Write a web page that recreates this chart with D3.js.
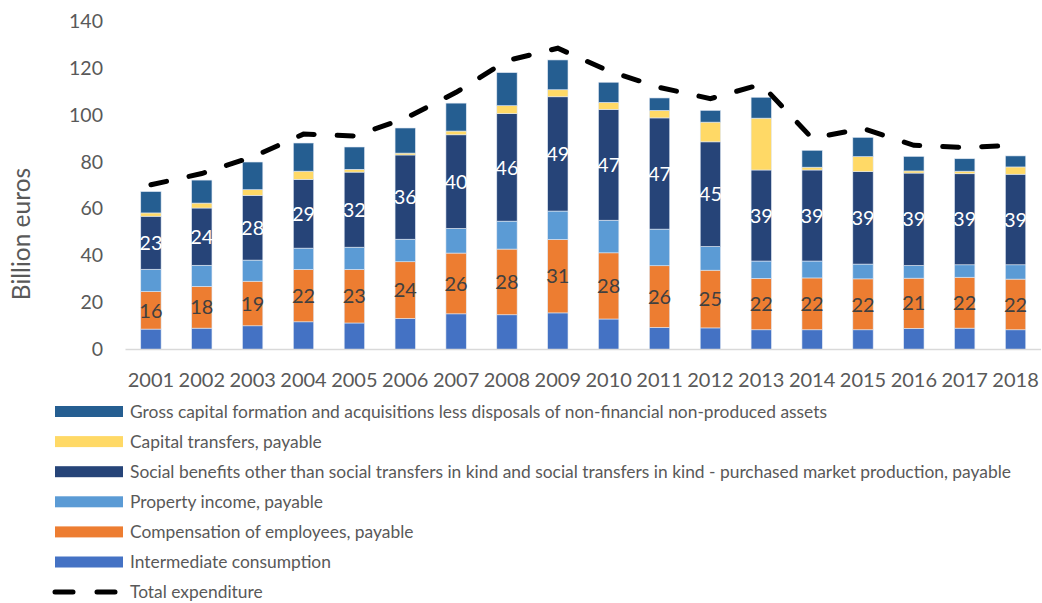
<!DOCTYPE html>
<html>
<head>
<meta charset="utf-8">
<script src="https://cdn.jsdelivr.net/npm/d3@7"></script>
<style>
  html, body { margin: 0; padding: 0; background: #fff; }
  svg { display: block; font-family: Lato, "Open Sans", sans-serif; }
</style>
</head>
<body>
<svg id="chart" width="1042" height="603"></svg>
<script>
// Government expenditure by category, billion euros
const years = ["2001","2002","2003","2004","2005","2006","2007","2008","2009","2010","2011","2012","2013","2014","2015","2016","2017","2018"];

const intermediate = [8.7, 9.1, 10.1, 11.8, 11.3, 13.2, 15.2, 14.8, 15.6, 13.0, 9.4, 9.2, 8.4, 8.4, 8.4, 9.0, 9.1, 8.4];
const compensation = [16.0, 17.8, 19.0, 22.3, 22.8, 24.2, 25.9, 28.0, 31.3, 28.2, 26.3, 24.6, 21.9, 22.1, 21.7, 21.4, 21.7, 21.6];
const property = [9.5, 9.0, 9.0, 9.1, 9.5, 9.6, 10.5, 11.9, 12.1, 13.9, 15.6, 10.1, 7.4, 7.2, 6.3, 5.4, 5.3, 6.1];
const social = [22.6, 24.4, 27.6, 29.3, 32.0, 35.9, 39.9, 45.8, 48.7, 47.2, 47.4, 44.6, 38.8, 38.8, 39.4, 39.4, 38.8, 38.6];
const capitalTransfers = [1.4, 2.1, 2.4, 3.5, 1.2, 0.8, 1.6, 3.4, 3.0, 3.0, 3.2, 8.4, 22.1, 1.2, 6.4, 0.9, 1.1, 3.1];
const grossCapital = [9.1, 9.8, 11.8, 12.0, 9.5, 10.7, 11.9, 14.1, 12.7, 8.6, 5.3, 5.0, 8.9, 7.2, 8.2, 6.2, 5.3, 4.7];
const totalExpenditure = [70.2, 75.0, 82.1, 91.8, 91.0, 98.5, 109.6, 123.1, 128.4, 118.7, 111.7, 106.9, 113.0, 90.0, 94.2, 87.0, 86.1, 87.0];

const yTicks = [0, 20, 40, 60, 80, 100, 120, 140];

// Series in stacking order (bottom to top)
const series = [
  { key: "intermediate", name: "Intermediate consumption", values: intermediate, color: "#4472c4" },
  { key: "compensation", name: "Compensation of employees, payable", values: compensation, color: "#ed7d31", label: "#404040" },
  { key: "property", name: "Property income, payable", values: property, color: "#5b9bd5" },
  { key: "social", name: "Social benefits other than social transfers in kind and social transfers in kind - purchased market production, payable", values: social, color: "#264478", label: "#ffffff" },
  { key: "capital", name: "Capital transfers, payable", values: capitalTransfers, color: "#ffd966" },
  { key: "gross", name: "Gross capital formation and acquisitions less disposals of non-financial non-produced assets", values: grossCapital, color: "#255e91" }
];

const svg = d3.select("#chart");
const margin = { left: 125.5, right: 1041, top: 21, bottom: 349.5 };

const x = d3.scaleBand().domain(years).range([margin.left, margin.right]).paddingInner(0.6).paddingOuter(0.3);
const y = d3.scaleLinear().domain([0, 140]).range([margin.bottom, margin.top]);

const rows = years.map((yr, i) => {
  const r = { year: yr };
  series.forEach(s => r[s.key] = s.values[i]);
  return r;
});
const stacked = d3.stack().keys(series.map(s => s.key))(rows);

// Bars
const layers = svg.append("g").selectAll("g")
  .data(stacked).join("g")
  .attr("fill", (d, i) => series[i].color);

layers.selectAll("rect")
  .data(d => d).join("rect")
  .attr("x", d => x(d.data.year))
  .attr("width", x.bandwidth())
  .attr("y", d => y(d[1]))
  .attr("height", d => y(d[0]) - y(d[1]))
  .attr("stroke", "#dfe8f3")
  .attr("stroke-width", 0.6);

// Value labels for compensation and social benefits
const fmt = d3.format(".0f");
stacked.forEach((layer, i) => {
  const s = series[i];
  if (!s.label) return;
  svg.append("g").selectAll("text")
    .data(layer).join("text")
    .attr("x", d => x(d.data.year) + x.bandwidth() / 2)
    .attr("y", d => y((d[0] + d[1]) / 2))
    .attr("dy", "0.36em")
    .attr("text-anchor", "middle")
    .attr("font-size", 20)
    .attr("fill", s.label)
    .text(d => fmt(d[1] - d[0]));
});

// Total expenditure dashed line
const line = d3.line()
  .x((d, i) => x(years[i]) + x.bandwidth() / 2)
  .y(d => y(d));

svg.append("path")
  .datum(totalExpenditure)
  .attr("d", line)
  .attr("fill", "none")
  .attr("stroke", "#000")
  .attr("stroke-width", 5)
  .attr("stroke-linecap", "round")
  .attr("stroke-dasharray", "16,23");

// X axis
const xAxis = svg.append("g")
  .attr("transform", `translate(0,${margin.bottom})`)
  .call(d3.axisBottom(x).tickSize(0).tickPadding(23));
xAxis.select(".domain").attr("stroke", "#d9d9d9").attr("stroke-width", 1.5)
  .attr("d", `M${margin.left},0H${margin.right}`);
xAxis.selectAll("text").attr("font-size", 20).attr("fill", "#595959")
  .attr("font-family", "Lato, sans-serif");

// Y axis (labels only)
const yAxis = svg.append("g")
  .attr("transform", `translate(103,0)`)
  .call(d3.axisLeft(y).tickValues(yTicks).tickSize(0).tickPadding(0));
yAxis.select(".domain").remove();
yAxis.selectAll("text").attr("font-size", 19.5).attr("fill", "#595959")
  .attr("font-family", "Lato, sans-serif");

svg.append("text")
  .attr("transform", "translate(30,234) rotate(-90)")
  .attr("text-anchor", "middle")
  .attr("font-size", 24.5)
  .attr("fill", "#595959")
  .text("Billion euros");

// Legend
const legendItems = series.slice().reverse().map(s => ({ name: s.name, color: s.color, type: "rect" }));
legendItems.push({ name: "Total expenditure", type: "line" });

const legend = svg.append("g");
const legendTop = 411.5, legendStep = 30.1;
legendItems.forEach((it, i) => {
  const cy = legendTop + i * legendStep;
  if (it.type === "rect") {
    legend.append("rect")
      .attr("x", 55).attr("y", cy - 5.5)
      .attr("width", 68).attr("height", 11)
      .attr("fill", it.color);
  } else {
    legend.append("line")
      .attr("x1", 55).attr("x2", 122).attr("y1", cy).attr("y2", cy)
      .attr("stroke", "#000").attr("stroke-width", 5)
      .attr("stroke-linecap", "round")
      .attr("stroke-dasharray", "18,24");
  }
  legend.append("text")
    .attr("x", 130).attr("y", cy)
    .attr("dy", "0.35em")
    .attr("font-size", 17.4)
    .attr("fill", "#595959")
    .text(it.name);
});
</script>
</body>
</html>
